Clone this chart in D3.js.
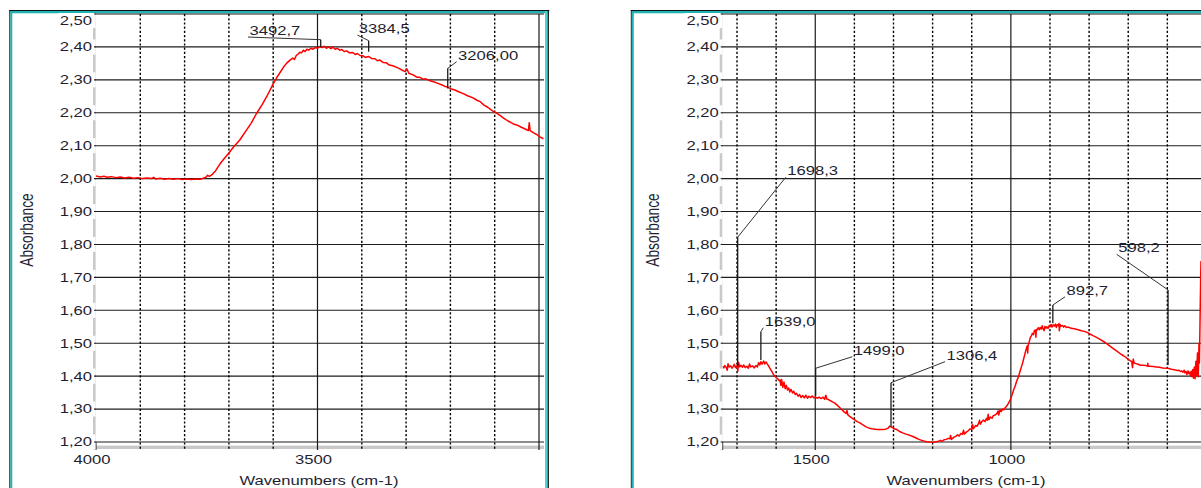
<!DOCTYPE html>
<html>
<head>
<meta charset="utf-8">
<script src="https://cdn.jsdelivr.net/npm/d3@7/dist/d3.min.js"></script>
<style>
  html, body { margin: 0; padding: 0; background: #fff; }
  svg { display: block; }
  text { font-family: "Liberation Sans", Arial, sans-serif; fill: #1e1e30; }
</style>
</head>
<body>
<svg id="chart" width="1201" height="488"></svg>
<script>
// ---- Axis ticks -------------------------------------------------------------
const absorbanceTicks = [2.5, 2.4, 2.3, 2.2, 2.1, 2.0, 1.9, 1.8, 1.7, 1.6, 1.5, 1.4, 1.3, 1.2];
const highRangeLabels = [4000, 3500];
const highRangeGrid = [3900, 3800, 3700, 3600, 3500, 3400, 3300, 3200, 3100, 3000];
const highRangeMajor = [3500, 3000];
const lowRangeLabels = [1500, 1000];
const lowRangeGrid = [1700, 1600, 1500, 1400, 1300, 1200, 1100, 1000, 900, 800, 700, 600];
const lowRangeMajor = [1500, 1000];

// ---- Spectrum, 4000 - 2990 cm-1  [wavenumber, absorbance] -----------------------
const highSpectrum = [
  [4000, 2.008], [3990, 2.005], [3982, 2.007], [3975, 2.004], [3965, 2.006], [3955, 2.003], [3945, 2.005],
  [3935, 2.002], [3925, 2.004], [3915, 2.001], [3905, 2.003], [3895, 2.000], [3885, 2.002], [3875, 2.000],
  [3870, 2.004], [3865, 1.999], [3855, 2.001], [3845, 1.998], [3835, 2.000], [3825, 1.998], [3815, 2.000],
  [3805, 1.997], [3795, 1.999], [3785, 1.997], [3775, 1.999], [3765, 1.998], [3758, 2.001], [3752, 2.004],
  [3748, 2.010], [3744, 2.007], [3738, 2.012], [3730, 2.024], [3720, 2.045], [3710, 2.062], [3700, 2.078],
  [3690, 2.095], [3675, 2.118], [3660, 2.148], [3650, 2.168], [3638, 2.197], [3625, 2.225], [3615, 2.248],
  [3600, 2.288], [3590, 2.311], [3577, 2.338], [3570, 2.350], [3562, 2.360], [3556, 2.366], [3552, 2.362],
  [3548, 2.374], [3544, 2.378], [3540, 2.384], [3536, 2.382], [3532, 2.390], [3528, 2.386], [3524, 2.393],
  [3520, 2.390], [3515, 2.396], [3510, 2.393], [3505, 2.398], [3500, 2.396], [3495, 2.401], [3490, 2.398],
  [3485, 2.402], [3480, 2.396], [3475, 2.400], [3470, 2.395], [3465, 2.399], [3460, 2.393], [3455, 2.396],
  [3450, 2.390], [3445, 2.392], [3440, 2.386], [3434, 2.388], [3428, 2.382], [3420, 2.383], [3415, 2.377],
  [3410, 2.380], [3404, 2.374], [3397, 2.373], [3392, 2.368], [3385, 2.371], [3378, 2.365], [3370, 2.364],
  [3365, 2.358], [3359, 2.360], [3352, 2.353], [3345, 2.352], [3338, 2.345], [3330, 2.343], [3321, 2.338],
  [3315, 2.334], [3310, 2.330], [3302, 2.325], [3298, 2.333], [3294, 2.320], [3284, 2.315], [3276, 2.308],
  [3270, 2.308], [3262, 2.302], [3255, 2.303], [3246, 2.297], [3238, 2.294], [3230, 2.290], [3220, 2.285],
  [3212, 2.280], [3206, 2.278], [3198, 2.272], [3190, 2.269], [3180, 2.263], [3171, 2.258], [3160, 2.251],
  [3150, 2.246], [3140, 2.238], [3133, 2.234], [3125, 2.224], [3115, 2.216], [3105, 2.206], [3095, 2.198],
  [3088, 2.192], [3080, 2.184], [3070, 2.175], [3058, 2.166], [3050, 2.163], [3040, 2.156], [3030, 2.150],
  [3024, 2.146], [3022, 2.170], [3020, 2.146], [3012, 2.139], [3005, 2.134], [2998, 2.127], [2990, 2.121]
];

// ---- Spectrum, 1737 - 514 cm-1  [wavenumber, absorbance] ------------------------
const lowSpectrum = [
  [1737, 1.430], [1734, 1.425], [1731, 1.432], [1728, 1.427], [1725, 1.418], [1723, 1.438], [1720, 1.428],
  [1716, 1.431], [1713, 1.424], [1710, 1.429], [1707, 1.436], [1704, 1.426], [1700, 1.432], [1698, 1.415],
  [1696, 1.442], [1693, 1.428], [1690, 1.433], [1686, 1.427], [1683, 1.434], [1679, 1.426], [1675, 1.430],
  [1671, 1.424], [1668, 1.437], [1665, 1.428], [1660, 1.431], [1656, 1.425], [1652, 1.432], [1648, 1.428],
  [1645, 1.441], [1642, 1.434], [1639, 1.444], [1636, 1.436], [1632, 1.446], [1629, 1.437], [1626, 1.443],
  [1622, 1.436], [1618, 1.428], [1614, 1.420], [1610, 1.412], [1607, 1.405], [1603, 1.400], [1600, 1.396],
  [1596, 1.392], [1592, 1.386], [1590, 1.388], [1588, 1.372], [1586, 1.390], [1583, 1.366], [1580, 1.382],
  [1577, 1.362], [1574, 1.372], [1571, 1.358], [1568, 1.364], [1565, 1.352], [1562, 1.360], [1558, 1.349],
  [1555, 1.354], [1551, 1.344], [1548, 1.348], [1544, 1.339], [1540, 1.344], [1536, 1.335], [1532, 1.341],
  [1528, 1.334], [1524, 1.342], [1520, 1.333], [1516, 1.339], [1512, 1.335], [1508, 1.340], [1504, 1.334],
  [1500, 1.337], [1495, 1.333], [1490, 1.336], [1485, 1.332], [1480, 1.336], [1476, 1.330], [1473, 1.342],
  [1470, 1.330], [1466, 1.329], [1462, 1.326], [1456, 1.322], [1450, 1.318], [1444, 1.312], [1437, 1.304],
  [1430, 1.296], [1425, 1.290], [1421, 1.287], [1419, 1.296], [1417, 1.283], [1412, 1.278], [1405, 1.272],
  [1400, 1.268], [1393, 1.262], [1386, 1.258], [1378, 1.252], [1370, 1.246], [1362, 1.242], [1355, 1.240],
  [1343, 1.238], [1330, 1.238], [1320, 1.239], [1314, 1.242], [1310, 1.248], [1306, 1.246], [1303, 1.244],
  [1300, 1.241], [1292, 1.238], [1283, 1.231], [1275, 1.227], [1268, 1.224], [1260, 1.221], [1249, 1.216],
  [1242, 1.212], [1235, 1.208], [1228, 1.205], [1223, 1.203], [1215, 1.201], [1210, 1.200], [1198, 1.199],
  [1190, 1.201], [1185, 1.202], [1180, 1.205], [1176, 1.202], [1172, 1.206], [1166, 1.208], [1160, 1.211],
  [1156, 1.210], [1154, 1.220], [1152, 1.208], [1146, 1.214], [1140, 1.218], [1136, 1.222], [1132, 1.218],
  [1128, 1.226], [1124, 1.223], [1121, 1.236], [1119, 1.224], [1114, 1.230], [1109, 1.234], [1104, 1.240],
  [1100, 1.238], [1098, 1.254], [1096, 1.240], [1090, 1.250], [1086, 1.248], [1082, 1.258], [1080, 1.266],
  [1078, 1.254], [1074, 1.262], [1070, 1.267], [1066, 1.262], [1062, 1.272], [1060, 1.266], [1058, 1.284],
  [1056, 1.268], [1052, 1.276], [1048, 1.272], [1045, 1.280], [1040, 1.282], [1036, 1.286], [1033, 1.294],
  [1031, 1.282], [1028, 1.298], [1025, 1.292], [1021, 1.300], [1018, 1.298], [1014, 1.305], [1010, 1.310],
  [1006, 1.318], [1003, 1.325], [1000, 1.332], [998, 1.340], [995, 1.350], [993, 1.358], [989, 1.370],
  [985, 1.385], [980, 1.400], [976, 1.417], [972, 1.432], [970, 1.440], [966, 1.458], [963, 1.473],
  [960, 1.485], [958, 1.492], [957, 1.470], [956, 1.492], [953, 1.505], [950, 1.518], [947, 1.524],
  [945, 1.530], [942, 1.526], [940, 1.538], [937, 1.540], [936, 1.518], [935, 1.542], [933, 1.540],
  [930, 1.547], [927, 1.541], [925, 1.548], [922, 1.543], [920, 1.553], [918, 1.545], [915, 1.538],
  [913, 1.551], [910, 1.546], [908, 1.550], [905, 1.545], [902, 1.554], [900, 1.550], [897, 1.557],
  [895, 1.549], [892, 1.556], [889, 1.552], [886, 1.558], [884, 1.548], [882, 1.556], [879, 1.553],
  [877, 1.560], [876, 1.538], [874, 1.557], [872, 1.552], [868, 1.554], [865, 1.549], [862, 1.553],
  [858, 1.548], [853, 1.549], [848, 1.546], [842, 1.545], [835, 1.543], [828, 1.541], [820, 1.538],
  [812, 1.536], [805, 1.533], [798, 1.528], [790, 1.523], [781, 1.518], [772, 1.512], [760, 1.503],
  [750, 1.494], [740, 1.485], [729, 1.476], [720, 1.468], [712, 1.462], [705, 1.456], [700, 1.451],
  [695, 1.447], [691, 1.444], [689, 1.426], [687, 1.452], [685, 1.440], [680, 1.438], [675, 1.436],
  [669, 1.433], [662, 1.433], [655, 1.432], [651, 1.431], [650, 1.439], [649, 1.430], [645, 1.430],
  [636, 1.429], [628, 1.428], [620, 1.427], [612, 1.425], [602, 1.424], [596, 1.423], [590, 1.421],
  [585, 1.420], [580, 1.419], [575, 1.417], [570, 1.418], [566, 1.414], [563, 1.416], [560, 1.412],
  [557, 1.418], [555, 1.410], [552, 1.414], [550, 1.405], [547, 1.416], [545, 1.408], [543, 1.412],
  [541, 1.402], [539, 1.415], [537, 1.398], [535, 1.420], [533, 1.394], [531, 1.428], [529, 1.392],
  [527, 1.445], [525, 1.402], [523, 1.470], [521, 1.398], [519, 1.500], [518, 1.440], [517, 1.520],
  [516, 1.600], [515, 1.680], [514, 1.750]
];

// ---- Peak callouts: peak wavenumber, absorbance at the tip, knee and label anchor
const highPeaks = [
  { label: "3492,7", wn: 3492.7, tip: 2.400, knee: 2.422, labelWn: 3657, labelAbs: 2.430 },
  { label: "3384,5", wn: 3384.5, tip: 2.385, knee: 2.419, labelWn: 3410, labelAbs: 2.436 },
  { label: "3206,00", wn: 3206.0, tip: 2.274, knee: 2.335, labelWn: 3186, labelAbs: 2.355 }
];
const lowPeaks = [
  { label: "1698,3", wn: 1698.3, tip: 1.431, knee: 1.822, labelWn: 1575.5, labelAbs: 2.004 },
  { label: "1639,0", wn: 1639.0, tip: 1.449, knee: 1.535, labelWn: 1632.8, labelAbs: 1.547 },
  { label: "1499,0", wn: 1499.0, tip: 1.340, knee: 1.424, labelWn: 1405.3, labelAbs: 1.459 },
  { label: "1306,4", wn: 1306.4, tip: 1.246, knee: 1.380, labelWn: 1168.3, labelAbs: 1.444 },
  { label: "892,7", wn: 892.7, tip: 1.561, knee: 1.616, labelWn: 861.5, labelAbs: 1.641 },
  { label: "598,2", wn: 598.2, tip: 1.434, knee: 1.662, labelWn: 729.4, labelAbs: 1.770 }
];

// ---- Drawing -----------------------------------------------------------------
const svg = d3.select("#chart");
const W = 1201, H = 488;
const SX = 1.33;          // wide glyphs of the spectrometer software
const TEAL = "#22b4b4", TEAL_LIGHT = "#48d2d2";
const fmtAbs = d => d3.format(".2f")(d).replace(".", ",");

const y = d3.scaleLinear().domain([1.2, 2.5]).range([442, 14]);

function stretchedText(g, x, yPos, str, anchor, size) {
  return g.append("text")
    .attr("transform", `translate(${x},${yPos}) scale(${SX},1)`)
    .attr("text-anchor", anchor)
    .style("font-size", size + "px")
    .text(str);
}

function drawPanel(cfg) {
  const g = svg.append("g");
  const x = cfg.x;
  const [x0, x1] = x.range();
  const visRight = Math.min(x1, W);

  // frame
  const fr = cfg.frame;
  g.append("line").attr("x1", fr.left - 0.5).attr("x2", fr.right + 1).attr("y1", 10.5).attr("y2", 10.5)
    .attr("stroke", "#111").attr("stroke-width", 1);
  g.append("rect").attr("x", fr.left + 0.5).attr("y", 11).attr("width", fr.right - fr.left).attr("height", 2.3).attr("fill", TEAL);
  g.append("line").attr("x1", fr.left).attr("x2", fr.left).attr("y1", 10).attr("y2", H)
    .attr("stroke", "#111").attr("stroke-width", 1);
  g.append("rect").attr("x", fr.left + 0.5).attr("y", 11).attr("width", 2).attr("height", H).attr("fill", TEAL);
  if (fr.right < W) {
    g.append("rect").attr("x", fr.right - 3.3).attr("y", 11).attr("width", 2.8).attr("height", H).attr("fill", TEAL_LIGHT);
    g.append("line").attr("x1", fr.right).attr("x2", fr.right).attr("y1", 10).attr("y2", H)
      .attr("stroke", "#111").attr("stroke-width", 1.2);
  }

  // grey axis bars
  g.append("rect").attr("x", x0 - 3).attr("y", 14).attr("width", 2.6).attr("height", 436).attr("fill", "#c9c9c9");
  g.append("rect").attr("x", x0 - 3).attr("y", 445.6).attr("width", visRight - x0 + 3).attr("height", 3.4).attr("fill", "#c9c9c9");

  // horizontal grid
  g.selectAll(".hgrid").data(absorbanceTicks).join("line")
    .attr("x1", x0 - 2).attr("x2", visRight).attr("y1", d => y(d)).attr("y2", d => y(d))
    .attr("stroke", "#1c1c1c").attr("stroke-width", 1.1);

  // vertical grid
  g.selectAll(".vgrid").data(cfg.grid).join("line")
    .attr("x1", d => x(d)).attr("x2", d => x(d)).attr("y1", 14).attr("y2", 450)
    .attr("stroke", d => cfg.major.includes(d) ? "#1a1a1a" : "#000")
    .attr("stroke-width", d => cfg.major.includes(d) ? 1.2 : 1.4)
    .attr("stroke-dasharray", d => cfg.major.includes(d) ? null : "2.2,2");
  g.append("line").attr("x1", x0).attr("x2", x0).attr("y1", 442).attr("y2", 450)
    .attr("stroke", "#222").attr("stroke-width", 1);

  // y labels on white patches
  absorbanceTicks.forEach(v => {
    const cy = Math.max(y(v), 20.6);
    g.append("rect").attr("x", x0 - 38).attr("y", cy - 7.5).attr("width", 37.5).attr("height", 15).attr("fill", "#fff");
    stretchedText(g, x0 - 4, cy + 4.4, fmtAbs(v), "end", 12.5);
  });
  g.selectAll(".ytick").data(absorbanceTicks).join("line")
    .attr("x1", x0 - 2).attr("x2", x0).attr("y1", d => y(d)).attr("y2", d => y(d))
    .attr("stroke", "#1c1c1c").attr("stroke-width", 1.1);

  // x labels
  cfg.labels.forEach(v => stretchedText(g, x(v) - 4, 464, String(v), "middle", 12.5));
  stretchedText(g, cfg.titleX, 485, "Wavenumbers (cm-1)", "middle", 12.5);

  g.append("text")
    .attr("transform", `translate(${x0 - 63.5},230) scale(${SX},1) rotate(-90)`)
    .attr("text-anchor", "middle")
    .style("font-size", "13.8px")
    .text("Absorbance");

  // spectrum
  const clipId = "clip" + cfg.id;
  svg.append("clipPath").attr("id", clipId).append("rect")
    .attr("x", x0).attr("y", 12).attr("width", visRight - x0 + 1).attr("height", 440);
  g.append("path").datum(cfg.spectrum)
    .attr("clip-path", `url(#${clipId})`)
    .attr("fill", "none").attr("stroke", "#ff0000").attr("stroke-width", 1.5)
    .attr("stroke-linejoin", "round")
    .attr("d", d3.line().x(d => x(d[0])).y(d => y(d[1])));

  // peak callouts
  cfg.peaks.forEach(p => {
    const px = x(p.wn);
    const lx = x(p.labelWn), ly = y(p.labelAbs);
    g.append("line").attr("x1", lx).attr("y1", ly).attr("x2", px).attr("y2", y(p.knee))
      .attr("stroke", "#333").attr("stroke-width", 1);
    g.append("line").attr("x1", px).attr("y1", y(p.knee)).attr("x2", px).attr("y2", y(p.tip))
      .attr("stroke", "#1a1a1a").attr("stroke-width", 1.3);
    stretchedText(g, lx + 1.5, ly - 2, p.label, "start", 12.5);
  });
}

drawPanel({
  id: "High",
  x: d3.scaleLinear().domain([4000, 2988.7]).range([96, 544]),
  frame: { left: 9.8, right: 548.3 },
  grid: highRangeGrid, major: highRangeMajor, labels: highRangeLabels,
  titleX: 319,
  spectrum: highSpectrum, peaks: highPeaks
});

drawPanel({
  id: "Low",
  x: d3.scaleLinear().domain([1736.6, 500]).range([722.7, 722.7 + 1236.6 * 0.3912]),
  frame: { left: 631.3, right: 1300 },
  grid: lowRangeGrid, major: lowRangeMajor, labels: lowRangeLabels,
  titleX: 966,
  spectrum: lowSpectrum, peaks: lowPeaks
});
</script>
</body>
</html>
